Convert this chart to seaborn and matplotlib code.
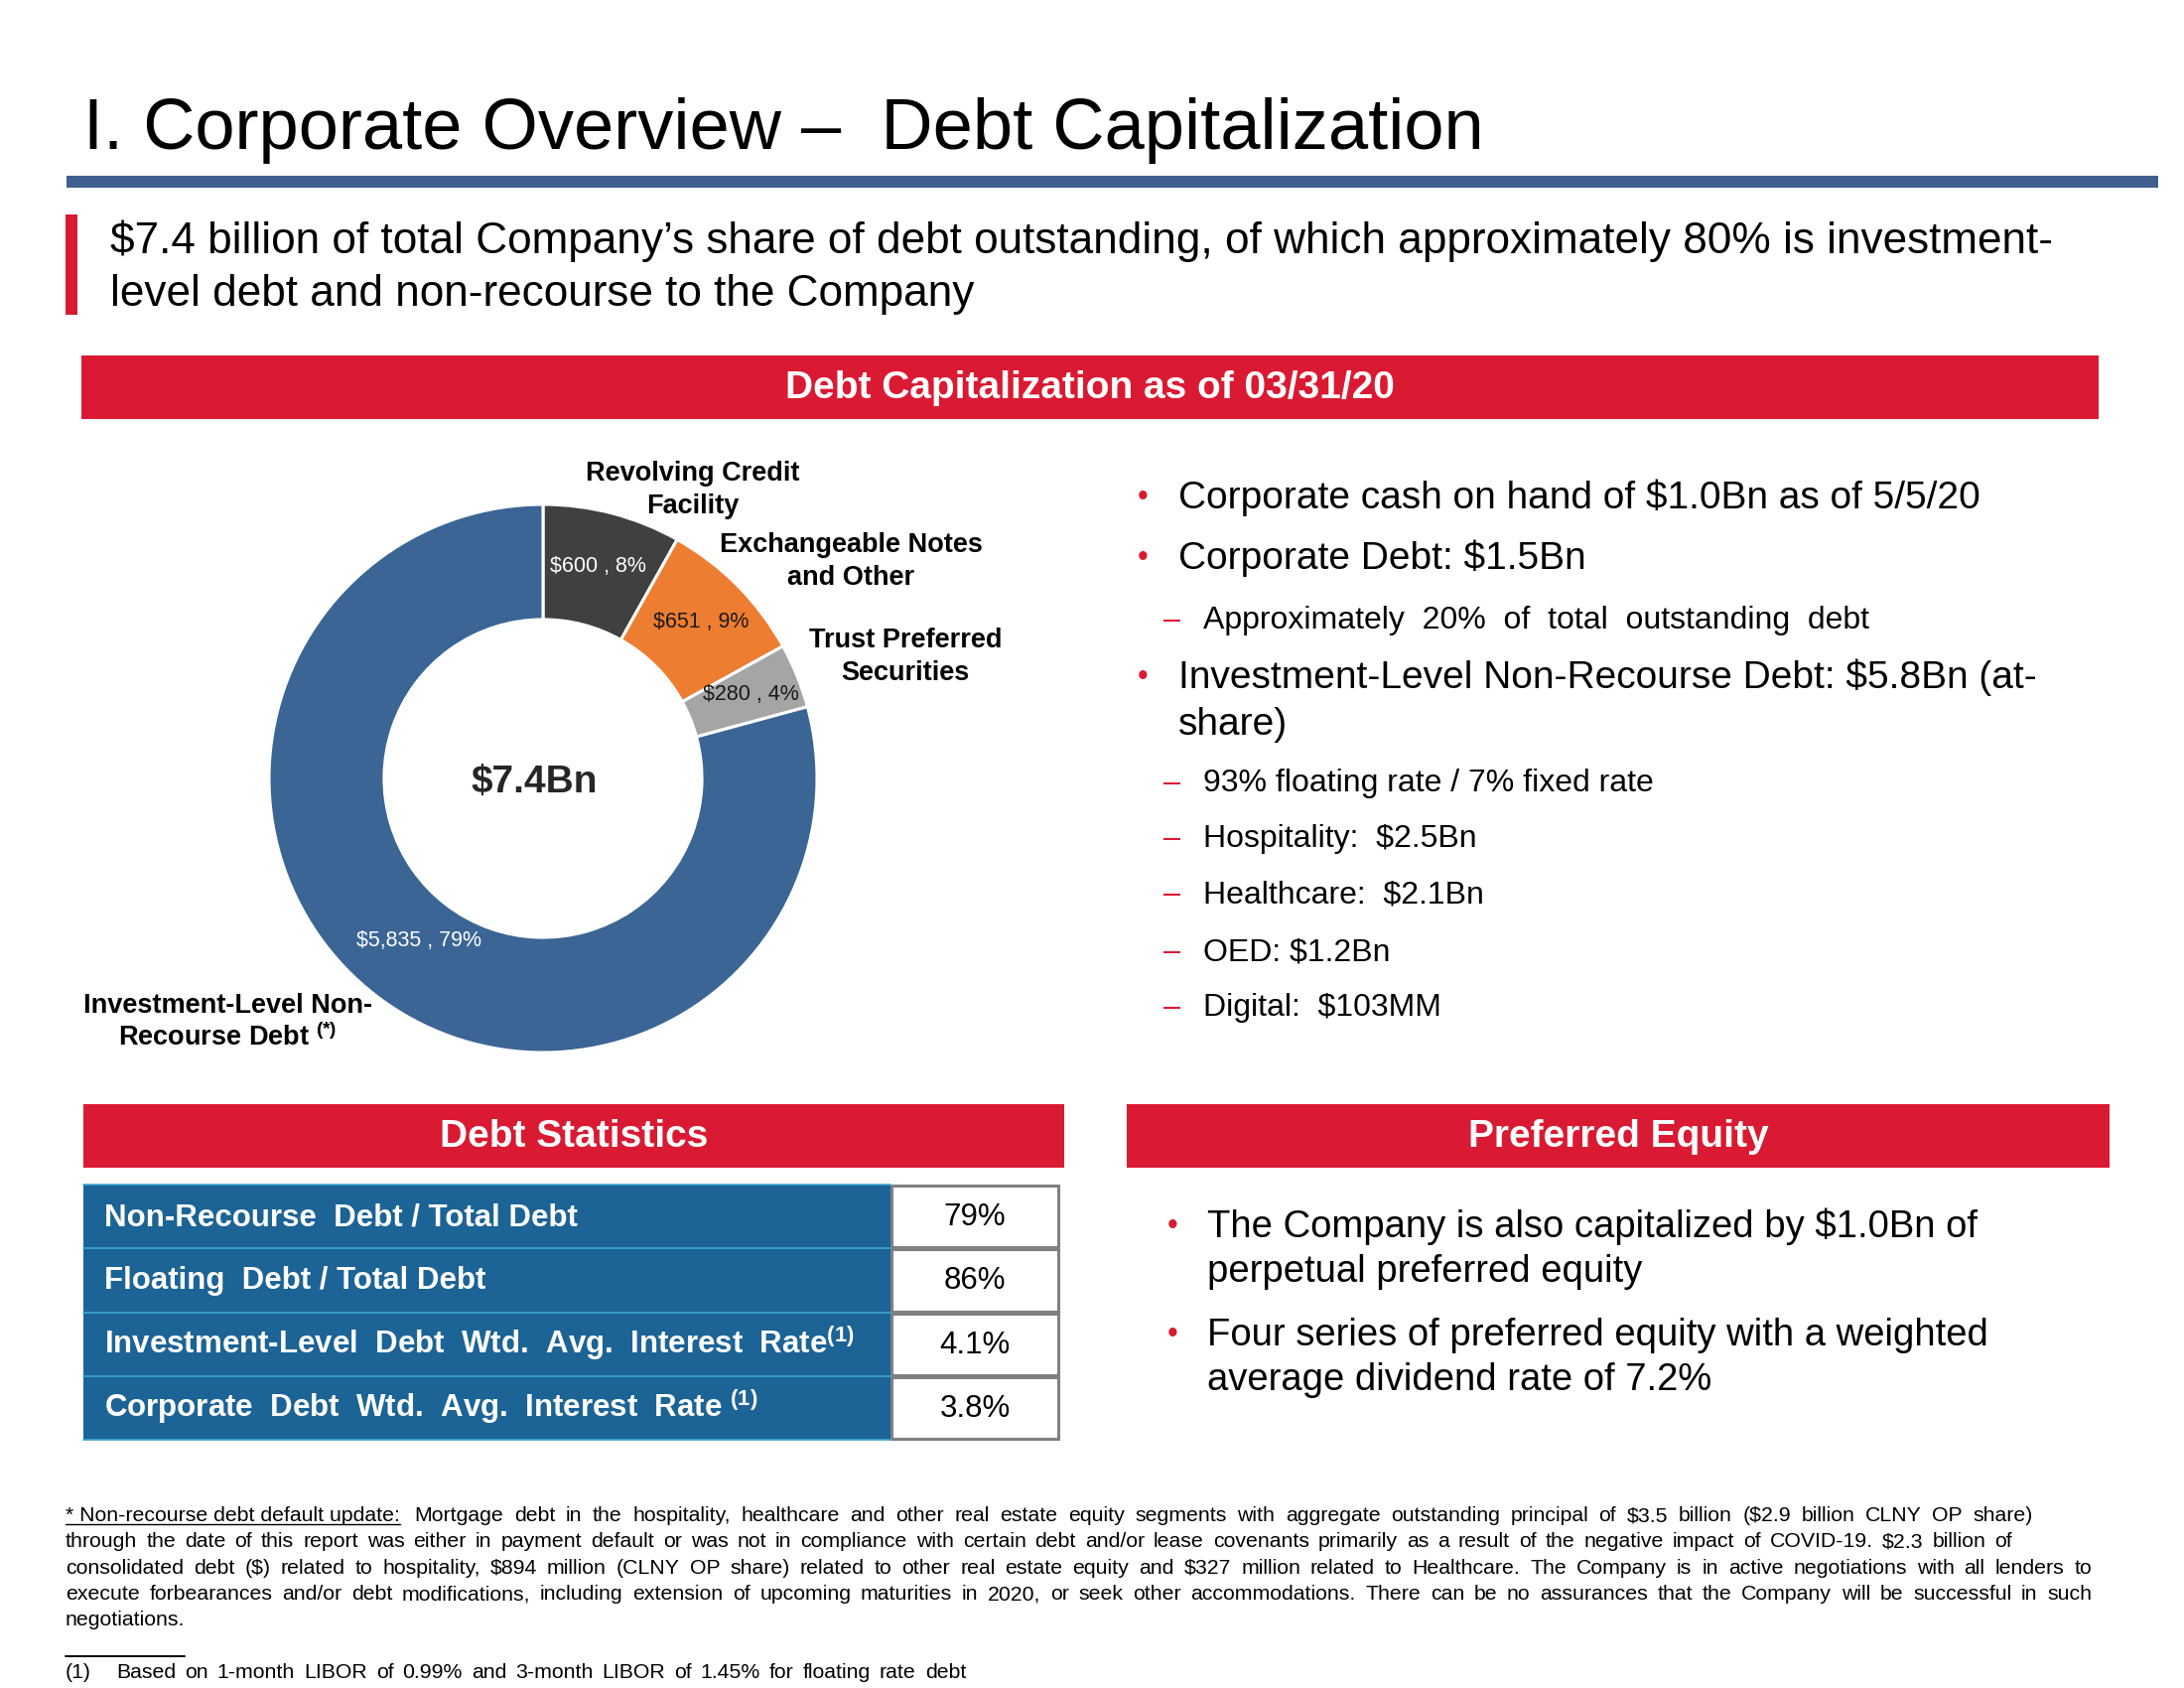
import matplotlib
matplotlib.use("Agg")
import matplotlib.pyplot as plt
import seaborn as sns
from matplotlib.patches import Rectangle

# ---------------- data ----------------
segments = ["Revolving Credit\nFacility", "Exchangeable Notes\nand Other",
            "Trust Preferred\nSecurities", "Investment-Level Non-\nRecourse Debt"]
amounts = [600, 651, 280, 5835]
total_label = "$7.4Bn"

title = "I. Corporate Overview \u2013  Debt Capitalization"
headline = ["$7.4 billion of total Company\u2019s share of debt outstanding, of which approximately 80% is investment-",
            "level debt and non-recourse to the Company"]

overview_points = ["Corporate cash on hand of $1.0Bn as of 5/5/20",
                   "Corporate Debt: $1.5Bn",
                   "Approximately  20%  of  total  outstanding  debt",
                   "Investment-Level Non-Recourse Debt: $5.8Bn (at-\nshare)",
                   "93% floating rate / 7% fixed rate",
                   "Hospitality:  $2.5Bn",
                   "Healthcare:  $2.1Bn",
                   "OED: $1.2Bn",
                   "Digital:  $103MM"]
overview_levels = [1, 1, 2, 1, 2, 2, 2, 2, 2]

stat_names = ["Non-Recourse  Debt / Total Debt",
              "Floating  Debt / Total Debt",
              "Investment-Level  Debt  Wtd.  Avg.  Interest  Rate$^{\\mathbf{(1)}}$",
              "Corporate  Debt  Wtd.  Avg.  Interest  Rate $^{\\mathbf{(1)}}$"]
stat_values = ["79%", "86%", "4.1%", "3.8%"]

preferred_points = ["The Company is also capitalized by $1.0Bn of\nperpetual preferred equity",
                    "Four series of preferred equity with a weighted\naverage dividend rate of 7.2%"]

footnote_lead = "* Non-recourse debt default update:"
footnote_lines = [
    "Mortgage debt in the hospitality, healthcare and other real estate equity segments with aggregate outstanding principal of $3.5 billion ($2.9 billion CLNY OP share)",
    "through the date of this report was either in payment default or was not in compliance with certain debt and/or lease covenants primarily as a result of the negative impact of COVID-19. $2.3 billion of",
    "consolidated debt ($) related to hospitality, $894 million (CLNY OP share) related to other real estate equity and $327 million related to Healthcare. The Company is in active negotiations with all lenders to",
    "execute forbearances and/or debt modifications, including extension of upcoming maturities in 2020, or seek other accommodations. There can be no assurances that the Company will be successful in such",
    "negotiations."]
libor_note = "Based on 1-month LIBOR of 0.99% and 3-month LIBOR of 1.45% for floating rate debt"

# ---------------- style ----------------
sns.set_theme(style="white")
plt.rcParams["font.family"] = ["Liberation Sans", "DejaVu Sans"]
plt.rcParams["mathtext.fontset"] = "custom"
plt.rcParams["mathtext.rm"] = "Liberation Sans"
plt.rcParams["mathtext.bf"] = "Liberation Sans:bold"
plt.rcParams["mathtext.it"] = "Liberation Sans:italic"

RED = "#DA1A32"
NAVY = "#3E5F8F"
TABLE_BLUE = "#1C6396"
seg_colors = ["#404040", "#ED7D31", "#A5A5A5", "#3A6595"]
pct_colors = ["white", "#1a1a1a", "#1a1a1a", "white"]

W, H = 2200, 1700
fig = plt.figure(figsize=(22, 17), dpi=100, facecolor="white")

# donut axes (below the page layer)
cx, cy, R = 547, 784, 276
dax = fig.add_axes([(cx - R) / W, 1 - (cy + R) / H, 2 * R / W, 2 * R / H])
total = sum(amounts)
wedges, _, autotexts = dax.pie(
    amounts, colors=seg_colors, startangle=90, counterclock=False, radius=1,
    wedgeprops=dict(width=0.42, edgecolor="white", linewidth=2.2),
    autopct=lambda p: f"${round(p * total / 100):,} , {p:.0f}%", pctdistance=0.8,
    textprops=dict(fontsize=15.5))
label_radius = [0.8, 0.81, 0.82, 0.745]
for t, c, r in zip(autotexts, pct_colors, label_radius):
    t.set_color(c)
    px, py = t.get_position()
    t.set_position((px * r / 0.8, py * r / 0.8))
dax.set_xlim(-1, 1)
dax.set_ylim(-1, 1)
dax.set_aspect("equal")
dax.axis("off")

# page layer in pixel coordinates
ax = fig.add_axes([0, 0, 1, 1], zorder=2)
ax.set_facecolor("none")
ax.set_xlim(0, W)
ax.set_ylim(H, 0)
ax.axis("off")


def put(x, y, s, size, color="black", weight="normal", ha="left", math=False, **kw):
    return ax.text(x, y, s, fontsize=size, color=color, fontweight=weight, ha=ha,
                   va="baseline", parse_math=math, **kw)


# title and rule
put(84, 150, title, 52)
ax.add_patch(Rectangle((67, 177), 2107, 12, color=NAVY, lw=0))

# headline with red marker
ax.add_patch(Rectangle((66, 216), 12, 101, color=RED, lw=0))
put(111, 255, headline[0], 31.8)
put(111, 308, headline[1], 31.8)

# section headers
def header(x0, x1, y0, y1, text):
    ax.add_patch(Rectangle((x0, y0), x1 - x0, y1 - y0, color=RED, lw=0))
    ax.text((x0 + x1) / 2, (y0 + y1) / 2 + 1, text, fontsize=28, color="white",
            fontweight="bold", ha="center", va="center", parse_math=False)

header(82, 2114, 358, 422, "Debt Capitalization as of 03/31/20")
header(84, 1072, 1112, 1176, "Debt Statistics")
header(1135, 2125, 1112, 1176, "Preferred Equity")

# donut category labels and centre total
label_pos = [(698, 484), (857, 556), (912, 652), (229, 1020)]
for i, (name, (lx, ly)) in enumerate(zip(segments, label_pos)):
    lines = name.split("\n")
    for j, line in enumerate(lines):
        is_foot = (i == 3 and j == 1)
        if is_foot:
            line = line + " $^{\\mathbf{(*)}}$"
        put(lx, ly + j * 33, line, 19.5, weight="bold", ha="center", math=is_foot)
ax.text(538, 788, total_label, fontsize=28, fontweight="bold", ha="center", va="center",
        parse_math=False)

# overview bullets
ov_base = [512, 573, 633, 693, 797, 853, 909, 967, 1023]
for text, lvl, yb in zip(overview_points, overview_levels, ov_base):
    for j, line in enumerate(text.split("\n")):
        if lvl == 1:
            if j == 0:
                put(1146, yb - 3, "\u2022", 22, color=RED)
            put(1187, yb + j * 47, line, 28)
        else:
            put(1172, yb, "\u2013", 22, color=RED)
            put(1212, yb, line, 23)

# debt statistics table
tx0, tx1, tx2 = 84, 897, 1067
ty0, row_h = 1193, (1450 - 1193) / len(stat_names)
for i, (name, val) in enumerate(zip(stat_names, stat_values)):
    y0 = ty0 + i * row_h
    ax.add_patch(Rectangle((tx0, y0), tx1 - tx0, row_h, color=TABLE_BLUE, lw=0))
    ax.plot([tx0, tx1], [y0, y0], color="#3AA6D0", lw=1.2)
    ax.add_patch(Rectangle((tx1 + 1, y0 + 1), tx2 - tx1 - 2, row_h - 2, facecolor="white",
                           edgecolor="#808080", lw=2.2))
    put(105, y0 + row_h / 2 + 9, name, 22.5, color="white", weight="bold", math=True)
    put((tx1 + tx2) / 2, y0 + row_h / 2 + 9, val, 22.5, ha="center")
ax.plot([tx0, tx1], [1450, 1450], color="#3AA6D0", lw=1.2)

# preferred equity bullets
pe_base = [1246, 1355]
for text, yb in zip(preferred_points, pe_base):
    put(1176, yb - 3, "\u2022", 22, color=RED)
    for j, line in enumerate(text.split("\n")):
        put(1216, yb + j * 45, line, 27.5)

# footnote, justified line by line
renderer = fig.canvas.get_renderer()
fn_size = 15.3


def justify(words, x0, xr, yb, lead_width=None):
    arts, widths = [], []
    for w in words:
        if w is None:
            arts.append(None)
            widths.append(lead_width + 4)
            continue
        t = put(0, yb, w, fn_size)
        arts.append(t)
        widths.append(t.get_window_extent(renderer).width)
    gap = max((xr - x0 - sum(widths)) / (len(words) - 1), 3)
    x = x0
    for t, wdt in zip(arts, widths):
        if t is not None:
            t.set_x(x)
        x += wdt + gap


fn_base = [1532, 1558, 1585, 1611, 1637]
fn_right = [2048, 2027, 2107, 2107, None]
for k, (line, yb, xr) in enumerate(zip(footnote_lines, fn_base, fn_right)):
    words = line.split(" ")
    if xr is None:
        put(66, yb, line, fn_size)
        continue
    if k == 0:
        lead = put(66, yb, footnote_lead, fn_size)
        lw = lead.get_window_extent(renderer).width
        ax.plot([66, 66 + lw], [yb + 3, yb + 3], color="black", lw=1)
        justify([None] + words, 66, xr, yb, lw)
    else:
        justify(words, 66, xr, yb)

ax.plot([66, 186], [1668, 1668], color="black", lw=1.4)
put(66, 1690, "(1)", fn_size)
justify(libor_note.split(" "), 117, 973, 1690)

fig.savefig("out.png", dpi=100, facecolor="white")
